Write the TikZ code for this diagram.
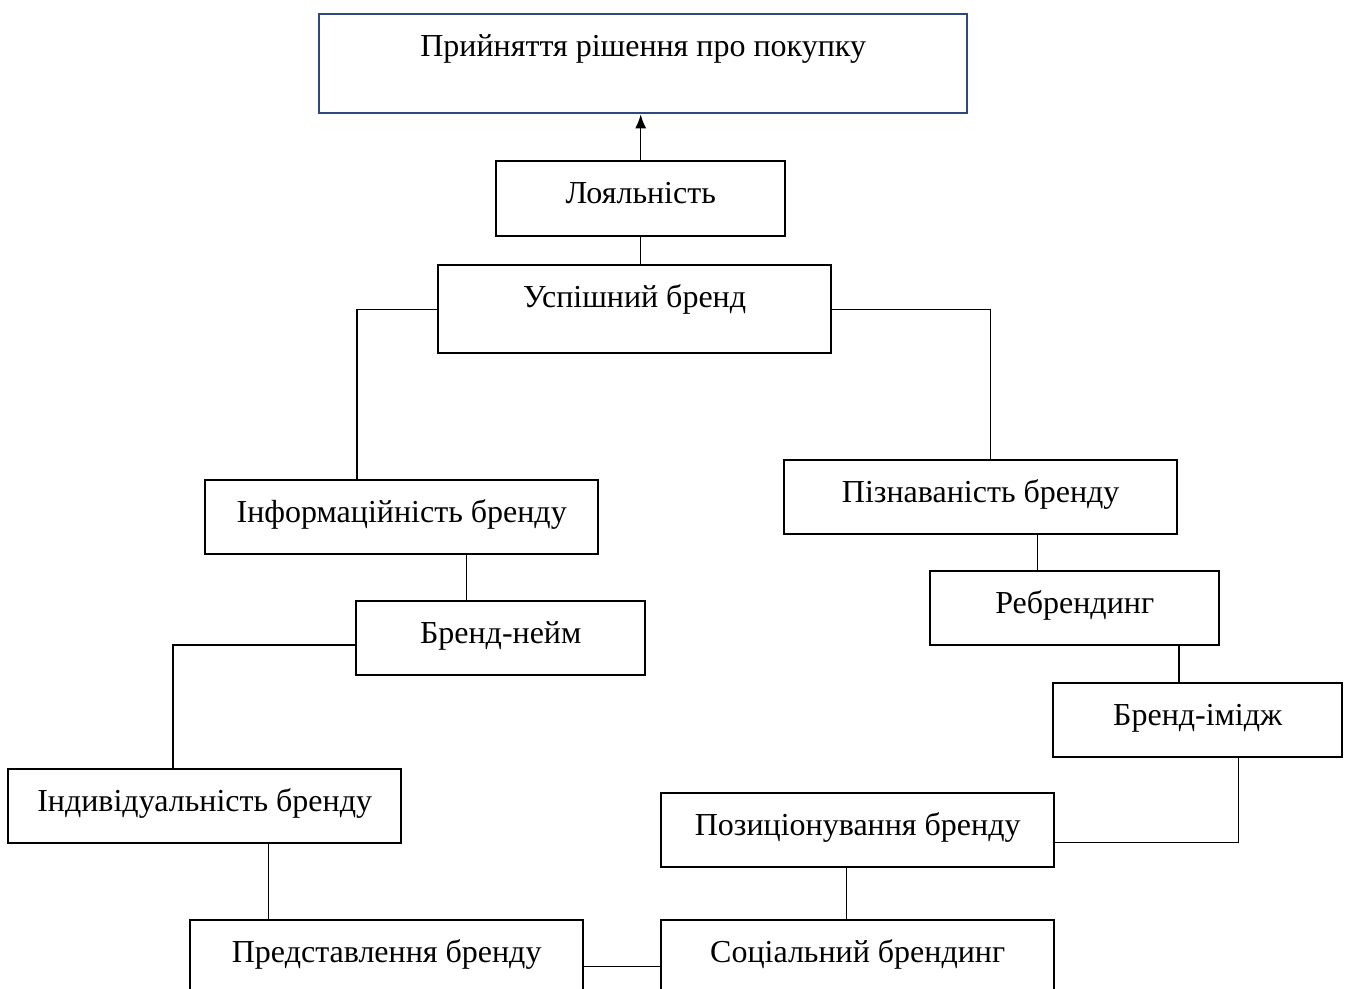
\documentclass[tikz,border=0pt]{standalone}
\usepackage{fontspec}
\setmainfont{Liberation Serif}
\usetikzlibrary{arrows.meta,calc}
\definecolor{TopRule}{HTML}{2E4A7C}

\begin{document}
\begin{tikzpicture}[x=0.5pt, y=-0.5pt,
  box/.style={draw=black, line width=1.2pt, anchor=north west, inner sep=0pt,
              text height=21pt, text depth=16pt, align=center,
              font=\fontsize{16}{19}\selectfont},
  wide/.style={box, minimum width=196.5pt},
  narrow/.style={box, minimum width=144.5pt},
  link/.style={draw=black, line width=0.6pt}]
  \path[use as bounding box, clip] (0,0) rectangle (1346,989);
  \node[box, draw=TopRule, minimum width=324pt, text depth=28.5pt] (top) at (318,13) {Прийняття рішення про покупку};
  \node[narrow, text depth=16.5pt] (loy) at (495,160) {Лояльність};
  \node[wide, text depth=23pt] (usp) at (437,264) {Успішний бренд};
  \node[wide] (inf) at (204,479) {Інформаційність бренду};
  \node[wide] (pzn) at (783,459) {Пізнаваність бренду};
  \node[narrow] (bn) at (355,600) {Бренд-нейм};
  \node[narrow] (reb) at (929,570) {Ребрендинг};
  \node[narrow] (bim) at (1052,682) {Бренд-імідж};
  \node[wide] (ind) at (7,768) {Індивідуальність бренду};
  \node[wide] (poz) at (660,792) {Позиціонування бренду};
  \node[wide] (pre) at (189,919) {Представлення бренду};
  \node[wide] (soc) at (660,919) {Соціальний брендинг};

  \draw[link, -{Latex[length=7pt,width=5.5pt]}] (loy.north) -- (loy.north |- top.south);
  \draw[link] (loy.south) -- (loy.south |- usp.north);
  \draw[link] (usp.west) -| ($(inf.north west)!0.387!(inf.north east)$);
  \draw[link] (usp.east) -| ($(pzn.north west)!0.524!(pzn.north east)$);
  \draw[link] ($(inf.south west)!0.664!(inf.south east)$) coordinate (i1) -- (i1 |- bn.north);
  \draw[link] ($(bn.north west)!0.59!(bn.south west)$) -| ($(ind.north west)!0.42!(ind.north east)$);
  \draw[link] ($(pzn.south west)!0.644!(pzn.south east)$) coordinate (p1) -- (p1 |- reb.north);
  \draw[link] ($(reb.south west)!0.858!(reb.south east)$) coordinate (r1) -- (r1 |- bim.north);
  \draw[link] ($(bim.south west)!0.639!(bim.south east)$) |- ($(poz.north east)!0.66!(poz.south east)$);
  \draw[link] ($(poz.south west)!0.471!(poz.south east)$) coordinate (z1) -- (z1 |- soc.north);
  \draw[link] ($(ind.south west)!0.662!(ind.south east)$) coordinate (d1) -- (d1 |- pre.north);
  \draw[link] ($(pre.north east)!0.62!(pre.south east)$) coordinate (e1) -- (e1 -| soc.west);
\end{tikzpicture}
\end{document}
